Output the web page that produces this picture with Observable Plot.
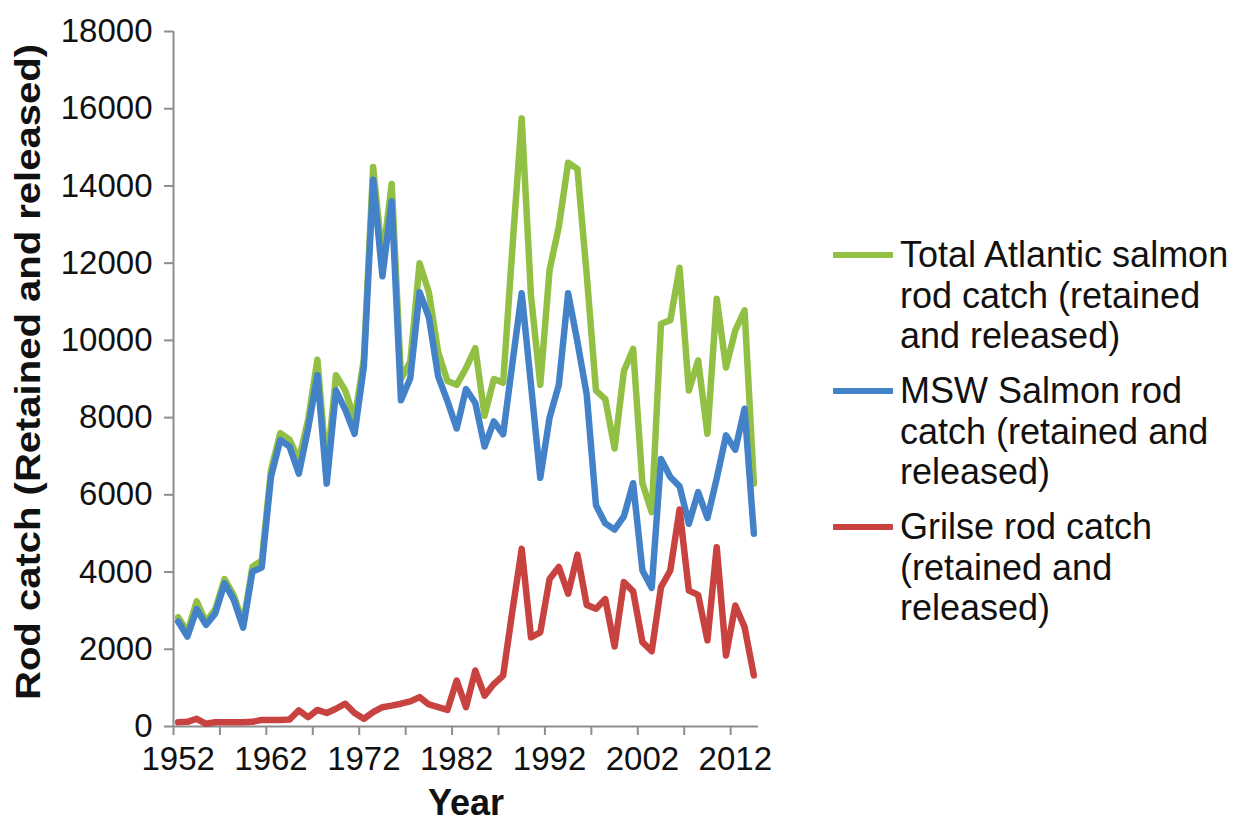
<!DOCTYPE html>
<html><head><meta charset="utf-8">
<script src="https://cdn.jsdelivr.net/npm/d3@7"></script>
<script src="https://cdn.jsdelivr.net/npm/@observablehq/plot@0.6"></script>
<style>
body{margin:0;background:#fff;font-family:"Liberation Sans",Arial,sans-serif;}
#wrap{position:relative;width:1234px;height:823px;overflow:hidden;}
#legend{position:absolute;left:833px;top:235px;font-size:36px;line-height:40.5px;color:#111;}
.item{display:flex;align-items:flex-start;margin-bottom:14.5px;}
.sw{width:60px;height:6px;margin-top:17px;margin-right:7px;flex:none;border-radius:1px;}
</style></head><body><div id="wrap"></div>
<script>
const years = d3.range(1952, 2015);
const totalCatch = [2830,2450,3240,2700,3040,3820,3390,2670,4140,4290,
  6640,7600,7430,6900,7950,9500,6640,9100,8700,7950,
  9520,14490,12100,14050,9000,9450,12000,11250,9700,8950,
  8850,9280,9800,8050,9000,8900,12400,15750,11150,8850,
  11820,12950,14600,14440,11700,8700,8480,7200,9200,9780,
  6300,5550,10430,10520,11880,8700,9480,7580,11080,9300,
  10260,10780,6290];
const mswCatch = [2720,2330,3040,2630,2930,3710,3280,2560,4010,4120,
  6470,7420,7250,6550,7720,9100,6290,8700,8200,7580,
  9320,14160,11660,13600,8450,9020,11250,10600,9070,8430,
  7720,8740,8380,7250,7900,7570,9410,11220,8850,6440,
  8000,8850,11220,9960,8600,5730,5260,5100,5440,6300,
  4040,3590,6930,6460,6220,5250,6070,5400,6420,7540,
  7170,8230,4990];
const grilseCatch = [110,120,200,70,110,110,110,110,120,170,
  170,170,180,420,240,430,350,460,590,350,
  200,370,500,540,590,650,760,570,500,430,
  1190,500,1450,800,1100,1320,3000,4600,2310,2440,
  3820,4130,3440,4450,3150,3050,3300,2070,3740,3500,
  2185,1950,3610,4040,5620,3520,3410,2230,4645,1840,
  3134,2573,1321];
const seriesNames = ["Total Atlantic salmon rod catch (retained and released)",
  "MSW Salmon rod catch (retained and released)",
  "Grilse rod catch (retained and released)"];
const legendLines = [["Total Atlantic salmon","rod catch (retained","and released)"],
  ["MSW Salmon rod","catch (retained and","released)"],
  ["Grilse rod catch","(retained and","released)"]];
const seriesColors = ["#92c045","#4381c9","#c8423f"];
const yTicks = d3.range(0, 18001, 2000);
const xLabelYears = d3.range(1952, 2013, 10);
const xTickMarks = d3.range(1951.5, 2012, 5);
const yTitle = "Rod catch (Retained and released)";
const xTitle = "Year";

const allSeries = [totalCatch, mswCatch, grilseCatch];
const rows = [];
allSeries.forEach((arr, s) => years.forEach((yr, i) => rows.push({series: seriesNames[s], year: yr, value: arr[i]})));

const font = '"Liberation Sans", Arial, sans-serif';
const axisGray = "#8e8e8e";

const chart = Plot.plot({
  width: 1234,
  height: 823,
  marginLeft: 173,
  marginRight: 476,
  marginTop: 31,
  marginBottom: 97,
  style: {fontFamily: font, fontSize: "33px", color: "#111", background: "#fff", overflow: "visible"},
  x: {domain: [1951.5, 2014.5], axis: null},
  y: {domain: [0, 18000], axis: null},
  color: {domain: seriesNames, range: seriesColors},
  marks: [
    Plot.ruleX([1951.5], {stroke: axisGray, strokeWidth: 2}),
    Plot.ruleY([0], {stroke: axisGray, strokeWidth: 2}),
    Plot.axisY({ticks: yTicks, tickSize: 9, tickPadding: 12, tickFormat: d => String(d), stroke: axisGray, strokeWidth: 2, fontSize: 33, fill: "#111", label: null}),
    Plot.axisX({ticks: xTickMarks, tickSize: 9, tickFormat: () => "", stroke: axisGray, strokeWidth: 2, label: null}),
    Plot.axisX({ticks: xLabelYears, tickSize: 0, tickPadding: 20, tickFormat: d => String(d), fontSize: 33, fill: "#111", label: null}),
    Plot.line(rows, {x: "year", y: "value", z: "series", stroke: "series", strokeWidth: 6.5, strokeLinejoin: "round", strokeLinecap: "round"}),
    Plot.text([xTitle], {frameAnchor: "bottom", dy: 88, fontWeight: "bold", fontSize: 36, fill: "#111"}),
    Plot.text([yTitle], {frameAnchor: "left", textAnchor: "middle", dx: -145, dy: -7, rotate: -90, fontWeight: "bold", fontSize: 35, fill: "#111"})
  ]
});
// stretch the y-axis title along its length like the reference
d3.select(chart).selectAll("text").filter(function() { return this.textContent === yTitle; })
  .attr("textLength", 656).attr("lengthAdjust", "spacingAndGlyphs");

const wrap = document.getElementById("wrap");
wrap.appendChild(chart);
const legend = document.createElement("div");
legend.id = "legend";
legendLines.forEach((lines, i) => {
  const item = document.createElement("div");
  item.className = "item";
  const sw = document.createElement("span");
  sw.className = "sw";
  sw.style.background = seriesColors[i];
  const txt = document.createElement("div");
  txt.innerHTML = lines.join("<br>");
  item.appendChild(sw);
  item.appendChild(txt);
  legend.appendChild(item);
});
wrap.appendChild(legend);
</script></body></html>
